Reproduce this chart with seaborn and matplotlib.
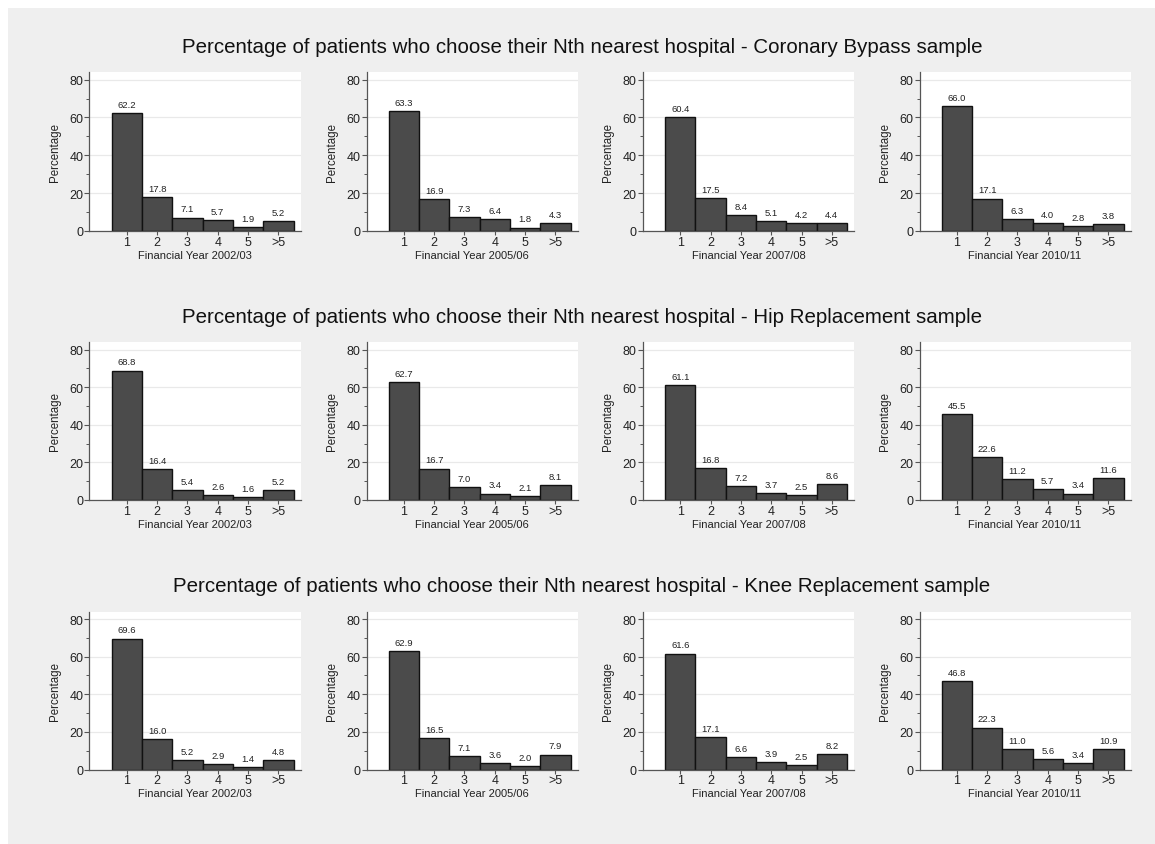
import matplotlib
matplotlib.use("Agg")
import matplotlib.pyplot as plt
import seaborn as sns
import pandas as pd

# Rank of the chosen hospital (1 = nearest)
ranks = ["1", "2", "3", "4", "5", ">5"]
years = ["2002/03", "2005/06", "2007/08", "2010/11"]
samples = ["Coronary Bypass", "Hip Replacement", "Knee Replacement"]

# Percentages per sample, one list per financial year
bypass_0203 = [62.2, 17.8, 7.1, 5.7, 1.9, 5.2]
bypass_0506 = [63.3, 16.9, 7.3, 6.4, 1.8, 4.3]
bypass_0708 = [60.4, 17.5, 8.4, 5.1, 4.2, 4.4]
bypass_1011 = [66.0, 17.1, 6.3, 4.0, 2.8, 3.8]

hip_0203 = [68.8, 16.4, 5.4, 2.6, 1.6, 5.2]
hip_0506 = [62.7, 16.7, 7.0, 3.4, 2.1, 8.1]
hip_0708 = [61.1, 16.8, 7.2, 3.7, 2.5, 8.6]
hip_1011 = [45.5, 22.6, 11.2, 5.7, 3.4, 11.6]

knee_0203 = [69.6, 16.0, 5.2, 2.9, 1.4, 4.8]
knee_0506 = [62.9, 16.5, 7.1, 3.6, 2.0, 7.9]
knee_0708 = [61.6, 17.1, 6.6, 3.9, 2.5, 8.2]
knee_1011 = [46.8, 22.3, 11.0, 5.6, 3.4, 10.9]

series = [
    [bypass_0203, bypass_0506, bypass_0708, bypass_1011],
    [hip_0203, hip_0506, hip_0708, hip_1011],
    [knee_0203, knee_0506, knee_0708, knee_1011],
]

sns.set_style("white")
plt.rcParams["font.family"] = ["Liberation Sans", "DejaVu Sans"]

W, H = 1155, 845
fig = plt.figure(figsize=(W / 100, H / 100), dpi=100, facecolor="white")

# light grey backdrop behind the panels
fig.patches.append(plt.Rectangle((8 / W, 0), 1 - 8 / W, 1 - 9 / H,
                                 transform=fig.transFigure, facecolor="#efefef",
                                 edgecolor="none", zorder=-10))

col_left = [89.5, 366.5, 643, 919.5]
panel_w = 211
row_top = [73, 343, 612.5]
row_bot = [232, 501, 770.5]
title_y = [47.5, 317.5, 586.5]

for r, sample in enumerate(samples):
    fig.text(582 / W, 1 - title_y[r] / H,
             f"Percentage of patients who choose their Nth nearest hospital - {sample} sample",
             ha="center", va="center", fontsize=14.8, color="#111111")
    for c, year in enumerate(years):
        vals = series[r][c]
        df = pd.DataFrame({"rank": ranks, "pct": vals})
        ax = fig.add_axes([col_left[c] / W, 1 - row_bot[r] / H,
                           panel_w / W, (row_bot[r] - row_top[r]) / H])
        ax.set_facecolor("white")
        sns.barplot(data=df, x="rank", y="pct", ax=ax, color="#4b4b4b",
                    edgecolor="#111111", linewidth=1.0, width=1.0, saturation=1)
        ax.bar_label(ax.containers[0], labels=[f"{v:.1f}" for v in vals],
                     padding=3, fontsize=6.8, color="#222222")
        ax.set_xlim(-1.23, 5.73)
        ax.set_ylim(0, 84)
        ax.set_yticks([0, 20, 40, 60, 80])
        ax.set_yticks([10, 30, 50, 70], minor=True)
        ax.yaxis.grid(True, which="major", color="#e9e9e9", linewidth=0.9)
        ax.set_axisbelow(True)
        for s in ["top", "right"]:
            ax.spines[s].set_visible(False)
        for s in ["left", "bottom"]:
            ax.spines[s].set_color("#555555")
            ax.spines[s].set_linewidth(0.9)
        ax.tick_params(axis="y", which="major", left=True, length=3.5, width=0.8,
                       color="#555555", labelsize=9, labelcolor="#222222", pad=1)
        ax.tick_params(axis="y", which="minor", left=True, length=2, width=0.7,
                       color="#555555")
        ax.tick_params(axis="x", bottom=True, length=3, width=0.8, color="#555555",
                       labelsize=9, labelcolor="#222222", pad=0.5)
        ax.set_ylabel("Percentage", fontsize=8.3, color="#222222", labelpad=6)
        ax.set_xlabel(f"Financial Year {year}", fontsize=8, color="#222222",
                      labelpad=1.2)

fig.savefig("out.png", dpi=100, facecolor=fig.get_facecolor())
